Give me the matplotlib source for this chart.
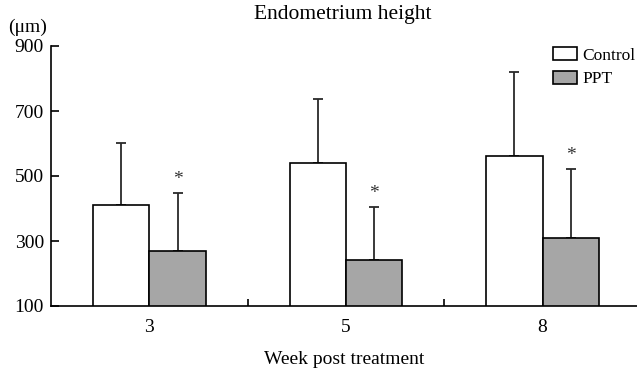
import matplotlib.pyplot as plt
from matplotlib.patches import Patch
import numpy as np

weeks = ['3', '5', '8']
control = [411, 541, 561]
control_err = [191, 196, 259]
ppt = [270, 241, 309]
ppt_err = [177, 164, 212]
significant = [True, True, True]

plt.rcParams['font.family'] = ['Liberation Serif', 'DejaVu Serif']

fig = plt.figure(figsize=(6.37, 3.71), dpi=100)
ax = fig.add_axes([51 / 637, 65 / 371, 586 / 637, 260 / 371])

x = np.arange(len(weeks))
w = 0.287
edge = dict(edgecolor='black', linewidth=1.2)
errkw = dict(ecolor='#2a2a2a', elinewidth=1.3, capsize=3.6, capthick=1.3)

ax.bar(x - w / 2, control, w, color='white', **edge, zorder=2)
ax.bar(x + w / 2, ppt, w, color='#a6a6a6', **edge, zorder=2)
ax.errorbar(x - w / 2, control, yerr=[np.zeros(3), control_err], fmt='none', zorder=1, **errkw)
ax.errorbar(x + w / 2, ppt, yerr=[np.zeros(3), ppt_err], fmt='none', zorder=1, **errkw)

# asterisks above PPT bars
for i in range(len(weeks)):
    if significant[i]:
        ax.annotate('*', (x[i] + w / 2, ppt[i] + ppt_err[i]), xytext=(0, 3.5),
                    textcoords='offset points', ha='center', va='bottom', fontsize=14, color='#333333')

ax.set_ylim(100, 900)
ax.set_xlim(-0.5, 2.48)
ax.set_yticks([100, 300, 500, 700, 900])
ax.set_xticks([0.5, 1.5], labels=['', ''])
ax.set_xticks(x, labels=weeks, minor=True)
ax.tick_params(axis='y', direction='in', length=6, width=1.2, labelsize=14, pad=5)
ax.tick_params(axis='x', which='major', direction='in', length=5, width=1.2)
ax.tick_params(axis='x', which='minor', length=0, labelsize=14, pad=9.5)

for s in ['top', 'right']:
    ax.spines[s].set_visible(False)
for s in ['left', 'bottom']:
    ax.spines[s].set_linewidth(1.2)

ax.set_xlabel('Week post treatment', fontsize=14, labelpad=11)
fig.text(343 / 637, 1 - 15 / 371, 'Endometrium height', ha='center', va='center', fontsize=15.5)
fig.text(8 / 637, 1 - 27 / 371, '(μm)', ha='left', va='center', fontsize=14)

handles = [Patch(facecolor='white', edgecolor='black', linewidth=1.2, label='Control'),
           Patch(facecolor='#a6a6a6', edgecolor='black', linewidth=1.2, label='PPT')]
ax.legend(handles=handles, loc='upper left', bbox_to_anchor=(553 / 637, 1 - 47 / 371),
          bbox_transform=fig.transFigure, frameon=False, fontsize=12.5, handlelength=1.4,
          handleheight=0.78, handletextpad=0.3, labelspacing=0.42, borderaxespad=0, borderpad=0)

plt.savefig('out.png', dpi=100)
